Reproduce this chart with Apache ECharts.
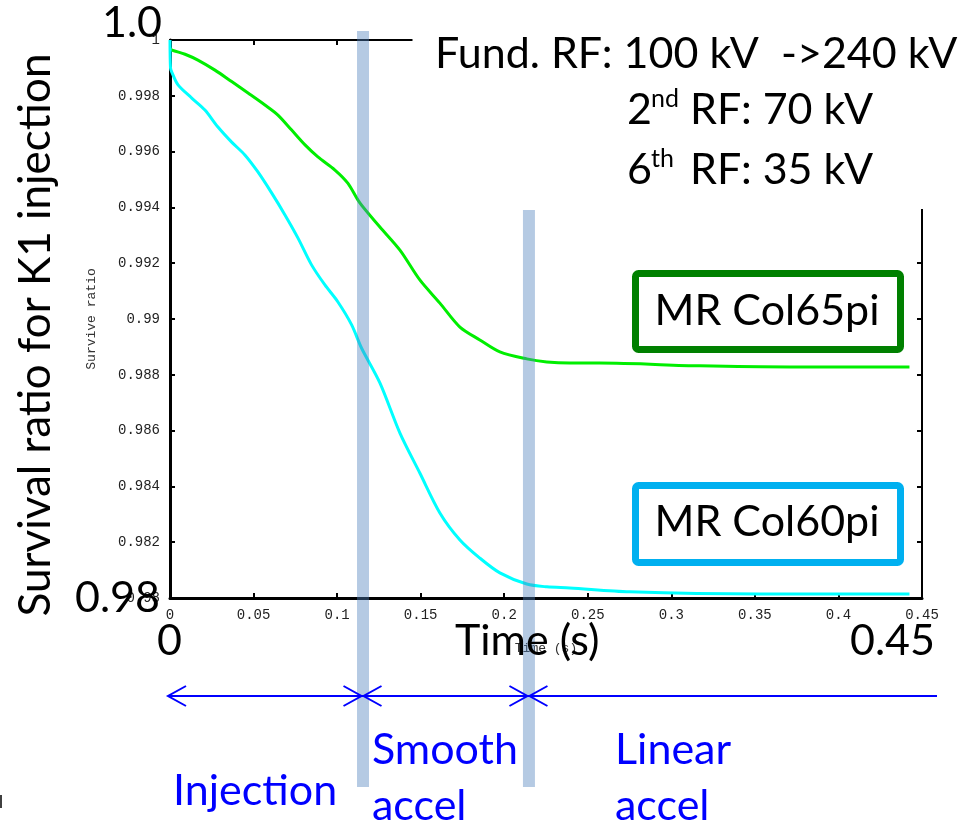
<!DOCTYPE html>
<html><head><meta charset="utf-8">
<script src="https://cdn.jsdelivr.net/npm/echarts@6/dist/echarts.min.js"></script>
<style>html,body{margin:0;padding:0;background:#fff}#c{width:967px;height:828px}</style>
</head><body><div id="c"></div>
<script>
// ---- data ----
const timeCol65 = [0, 0.0012, 0.009, 0.0167, 0.0269, 0.0369, 0.0467, 0.0568, 0.0646, 0.0728, 0.0808, 0.0885, 0.0987, 0.1064, 0.1136, 0.1256, 0.1376, 0.1495, 0.1615, 0.1735, 0.1854, 0.1974, 0.2135, 0.2255, 0.2392, 0.257, 0.317, 0.371, 0.4425];
const ratioCol65 = [0.9997, 0.99964, 0.99949, 0.99928, 0.99892, 0.99851, 0.9981, 0.99767, 0.99731, 0.99677, 0.99624, 0.99581, 0.99534, 0.99487, 0.99416, 0.9933, 0.99247, 0.9914, 0.99057, 0.98971, 0.98925, 0.98882, 0.98857, 0.98846, 0.98842, 0.98842, 0.98832, 0.98828, 0.98828];
const timeCol60 = [0, 0.0003, 0.001, 0.0048, 0.013, 0.0209, 0.0287, 0.0369, 0.0448, 0.0526, 0.0608, 0.0688, 0.0766, 0.0847, 0.0927, 0.1005, 0.1087, 0.1146, 0.1256, 0.1376, 0.1495, 0.1615, 0.1735, 0.1854, 0.1974, 0.2135, 0.2255, 0.2392, 0.275, 0.353, 0.4425];
const ratioCol60 = [1.0, 0.9990, 0.99886, 0.99839, 0.99792, 0.99749, 0.99688, 0.99634, 0.99588, 0.99527, 0.99452, 0.99373, 0.9929, 0.99194, 0.99122, 0.99061, 0.98979, 0.98896, 0.98771, 0.98591, 0.98448, 0.98305, 0.98208, 0.98143, 0.9809, 0.9805, 0.9804, 0.98036, 0.98022, 0.98014, 0.98014];
const seriesNames = ['MR Col65pi', 'MR Col60pi'];
const xMin = 0, xMax = 0.45, xStep = 0.05;
const yMin = 0.98, yMax = 1.0, yStep = 0.002;
const phaseBoundaries = [0.1155, 0.2148];
const phaseLabels = [['Injection'], ['Smooth', 'accel'], ['Linear', 'accel']];
const rfLines = ['Fund. RF: 100 kV  ->240 kV', ['2', 'nd', 'RF: 70 kV'], ['6', 'th', 'RF: 35 kV']];
const yTitle = 'Survival ratio for K1 injection';
const xTitle = 'Time (s)';

const zip = (a, b) => a.map((t, i) => [t, b[i]]);
const chart = echarts.init(document.getElementById('c'), null, {renderer: 'canvas'});
const mono = 'Liberation Mono';
const big = 'Lato';
const FS = 43;

const axisLine = w => ({show: true, onZero: false, lineStyle: {color: '#000', width: w}});
const tick = {show: true, inside: true, length: 5, lineStyle: {color: '#000', width: 2}};

chart.setOption({
  animation: false,
  backgroundColor: '#fff',
  grid: {left: 170, right: 45, top: 40, bottom: 230},
  xAxis: [
    {type: 'value', min: xMin, max: xMax, interval: xStep, position: 'bottom',
     axisLine: axisLine(3), axisTick: tick, splitLine: {show: false},
     axisLabel: {fontFamily: mono, fontSize: 14, color: '#222', margin: 10,
                 formatter: v => String(+v.toFixed(2))},
     name: 'Time (s)', nameLocation: 'middle', nameGap: 44,
     nameTextStyle: {fontFamily: mono, fontSize: 13, color: '#333'}},
    {type: 'value', min: xMin, max: xMax, interval: xStep, position: 'top',
     axisLine: axisLine(2), axisTick: tick, axisLabel: {show: false}, splitLine: {show: false}}
  ],
  yAxis: [
    {type: 'value', min: yMin, max: yMax, interval: yStep, position: 'left',
     axisLine: axisLine(3), axisTick: tick, splitLine: {show: false},
     axisLabel: {fontFamily: mono, fontSize: 14, color: '#222', margin: 10,
                 formatter: v => String(+v.toFixed(3))},
     name: 'Survive ratio', nameLocation: 'middle', nameGap: 72, nameRotate: 90,
     nameTextStyle: {fontFamily: mono, fontSize: 13, color: '#333'}},
    {type: 'value', min: yMin, max: yMax, interval: yStep, position: 'right',
     axisLine: axisLine(2), axisTick: tick, axisLabel: {show: false}, splitLine: {show: false}}
  ],
  series: [
    {name: seriesNames[0], type: 'line', data: zip(timeCol65, ratioCol65), showSymbol: false,
     smooth: 0.3, lineStyle: {color: '#00ee00', width: 3}, z: 3},
    {name: seriesNames[1], type: 'line', data: zip(timeCol60, ratioCol60), showSymbol: false,
     smooth: 0.3, lineStyle: {color: '#00ffff', width: 3}, z: 3}
  ]
});

const px = t => chart.convertToPixel({xAxisIndex: 0}, t);
const x0 = px(xMin), x1 = px(xMax);
const b1 = px(phaseBoundaries[0]), b2 = px(phaseBoundaries[1]);

// y given as text baseline; converted to the "middle" anchor used by zrender
const txt = (text, x, baseline, size, fill, align) => ({
  type: 'text', z: 100,
  style: {text: text, x: x, y: baseline - 0.387 * size, fontSize: size, fontFamily: big, fill: fill || '#000',
          align: align || 'left', verticalAlign: 'middle'}
});

const blue = '#0000ff';
const arrowY = 696;
const head = (tip, dir) => ({type: 'polyline', z: 90,
  shape: {points: [[tip - dir * 18, arrowY - 10], [tip, arrowY], [tip - dir * 18, arrowY + 10]]},
  style: {stroke: blue, lineWidth: 2, fill: null}});

const graphics = [
  // white cover for the upper-right part of the frame (text area)
  {type: 'rect', z: 50, shape: {x: 412.5, y: 0, width: 967 - 412.5, height: 209}, style: {fill: '#fff'}},
  // phase boundary bars
  {type: 'rect', z: 60, shape: {x: b1 - 6, y: 31, width: 12, height: 787 - 31}, style: {fill: 'rgba(79,129,189,0.42)'}},
  {type: 'rect', z: 60, shape: {x: b2 - 6, y: 210, width: 12, height: 787 - 210}, style: {fill: 'rgba(79,129,189,0.42)'}},
  // arrows
  {type: 'line', z: 90, shape: {x1: x0 - 2, y1: arrowY, x2: x1 + 15, y2: arrowY}, style: {stroke: blue, lineWidth: 2}},
  head(x0 - 2, -1), head(b1 - 1.5, 1), head(b1 + 0.5, -1), head(b2 - 1.5, 1), head(b2 + 0.5, -1),
  // legend boxes
  {type: 'rect', z: 70, shape: {x: 635.5, y: 273.5, width: 265, height: 76, r: 3}, style: {fill: '#fff', stroke: '#008000', lineWidth: 7}},
  {type: 'rect', z: 70, shape: {x: 635.5, y: 485.5, width: 265, height: 77, r: 3}, style: {fill: '#fff', stroke: '#00b0f0', lineWidth: 7}},
  txt(seriesNames[0], 767, 328, FS, '#000', 'center'),
  txt(seriesNames[1], 767, 539, FS, '#000', 'center'),
  // big axis annotations
  txt('1.0', 102, 40, FS),
  txt('0.98', 75, 615, FS),
  txt('0', 157, 658, FS),
  txt(xTitle, 455, 658, FS),
  txt('0.45', 850, 658, FS),
  {type: 'text', z: 100, x: 36, y: 335, rotation: Math.PI / 2,
   style: {text: yTitle, x: 0, y: 0, fontSize: 44, fontFamily: big, fill: '#000', align: 'center', verticalAlign: 'middle'}},
  // RF text
  txt(rfLines[0], 435, 71, FS),
  txt(rfLines[1][0], 627, 127, FS), txt(rfLines[1][1], 651, 109, 25), txt(rfLines[1][2], 690, 127, FS),
  txt(rfLines[2][0], 627, 187, FS), txt(rfLines[2][1], 651, 169, 25), txt(rfLines[2][2], 690, 187, FS),
  // phase labels
  txt(phaseLabels[0][0], 173, 808, FS, blue),
  txt(phaseLabels[1][0], 372, 767, FS, blue), txt(phaseLabels[1][1], 372, 823, FS, blue),
  txt(phaseLabels[2][0], 615, 767, FS, blue), txt(phaseLabels[2][1], 615, 823, FS, blue),
  // small stray mark at lower left
  {type: 'line', z: 90, shape: {x1: 1, y1: 795, x2: 1, y2: 808}, style: {stroke: '#000', lineWidth: 1.5}}
];
chart.setOption({graphic: graphics});
</script>
</body></html>
